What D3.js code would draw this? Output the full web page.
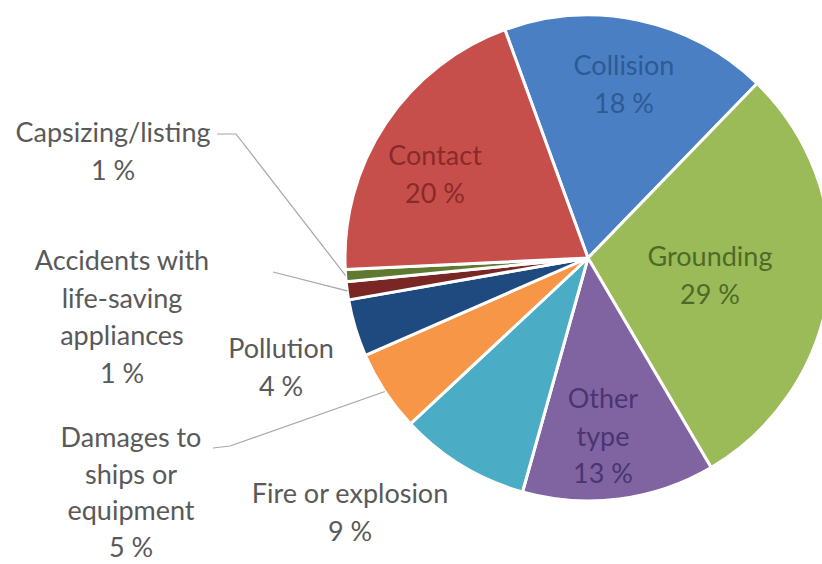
<!DOCTYPE html>
<html>
<head>
<meta charset="utf-8">
<script src="https://cdn.jsdelivr.net/npm/d3@7"></script>
<style>
  html, body { margin: 0; padding: 0; background: #ffffff; }
  svg { display: block; }
</style>
</head>
<body>
<svg id="chart" width="822" height="564"></svg>
<script>
// ---- data ----
const categories = [
  "Collision", "Grounding", "Other type", "Fire or explosion",
  "Damages to ships or equipment", "Pollution",
  "Accidents with life-saving appliances", "Capsizing/listing", "Contact"
];
const values = [17.8, 29.3, 12.8, 8.7, 5.4, 3.8, 1.2, 0.8, 20.2];
const labelLines = [
  ["Collision"], ["Grounding"], ["Other", "type"], ["Fire or explosion"],
  ["Damages to", "ships or", "equipment"], ["Pollution"],
  ["Accidents with", "life-saving", "appliances"], ["Capsizing/listing"], ["Contact"]
];
const sliceColors = ["#4a7fc3", "#9bbb59", "#8064a2", "#4bacc6", "#f79646", "#1f4a80", "#7a2624", "#5f7a30", "#c64f4c"];
const innerTextColors = { "Collision": "#2d5a94", "Grounding": "#4f6a28", "Other type": "#4a3570", "Contact": "#8a2a28" };

// ---- layout ----
const width = 822, height = 564;
const cx = 588, cy = 258, R = 243;
const lineH = 37.5;
// label anchor (center x, first-line visual middle y, kind, line height)
const labelPos = {
  "Collision": [624, 67, "in", 37.5],
  "Grounding": [710, 258, "in", 37.5],
  "Other type": [603, 400, "in", 37.5],
  "Fire or explosion": [350, 495, "out", 37.5],
  "Damages to ships or equipment": [131, 439, "out", 36.5],
  "Pollution": [281, 350, "out", 37.5],
  "Accidents with life-saving appliances": [122, 262, "out", 37.5],
  "Capsizing/listing": [113, 134, "out", 37.5],
  "Contact": [435, 157, "in", 37.5]
};
const leaders = {
  "Capsizing/listing": [[217, 134], [236, 134]],
  "Accidents with life-saving appliances": [[273, 272]],
  "Damages to ships or equipment": [[213, 448], [230, 446]]
};

const svg = d3.select("#chart");
const data = categories.map((c, i) => ({ name: c, value: values[i], lines: labelLines[i], color: sliceColors[i] }));
const total = d3.sum(values);

const start = -20 * Math.PI / 180;
const pie = d3.pie().value(d => d.value).sort(null).startAngle(start).endAngle(start + 2 * Math.PI);
const arc = d3.arc().innerRadius(0).outerRadius(R);
const arcs = pie(data);

const g = svg.append("g").attr("transform", `translate(${cx},${cy})`);
g.selectAll("path.slice").data(arcs).join("path")
  .attr("class", "slice")
  .attr("d", arc)
  .attr("fill", d => d.data.color)
  .attr("stroke", "#ffffff")
  .attr("stroke-width", 3)
  .attr("stroke-linejoin", "round");

// leader lines
arcs.forEach(a => {
  const pts = leaders[a.data.name];
  if (!pts) return;
  const mid = (a.startAngle + a.endAngle) / 2;
  const end = [cx + R * Math.sin(mid), cy - R * Math.cos(mid)];
  svg.append("path")
    .attr("d", d3.line()([...pts, end]))
    .attr("fill", "none")
    .attr("stroke", "#a6a6a6")
    .attr("stroke-width", 1.2);
});

// labels
arcs.forEach(a => {
  const d = a.data;
  const [x, y, kind, lh] = labelPos[d.name];
  const pct = Math.round(d.value / total * 100) + " %";
  const lines = [...d.lines, pct];
  const t = svg.append("text")
    .attr("x", x)
    .attr("text-anchor", "middle")
    .attr("font-family", "Lato, 'Open Sans', sans-serif")
    .attr("font-size", 27)
    .attr("fill", kind === "in" ? innerTextColors[d.name] : "#595959");
  lines.forEach((ln, i) => {
    t.append("tspan")
      .attr("x", x)
      .attr("y", y + 8 + i * lh)
      .text(ln);
  });
});
</script>
</body>
</html>
